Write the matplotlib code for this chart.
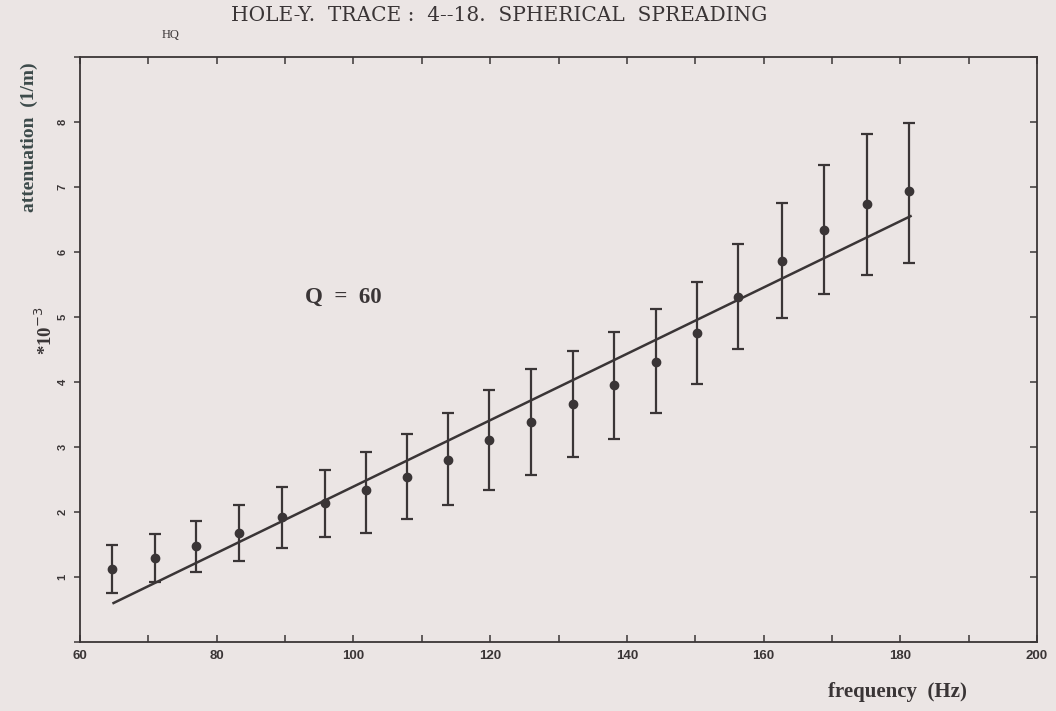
import matplotlib
matplotlib.use("Agg")
import matplotlib.pyplot as plt
from matplotlib.ticker import MultipleLocator

# data (attenuation in units of 1e-3 1/m)
freq = [64.7, 70.9, 76.9, 83.2, 89.6, 95.8, 101.8, 107.8, 113.8, 119.9,
        126.0, 132.1, 138.1, 144.3, 150.2, 156.3, 162.7, 168.9, 175.2, 181.3]
atten = [1.12, 1.29, 1.47, 1.68, 1.93, 2.14, 2.34, 2.54, 2.80, 3.11,
         3.39, 3.66, 3.95, 4.31, 4.76, 5.31, 5.86, 6.34, 6.73, 6.93]
err_low = [0.36, 0.36, 0.40, 0.43, 0.49, 0.52, 0.67, 0.64, 0.70, 0.77,
           0.82, 0.82, 0.82, 0.78, 0.79, 0.81, 0.88, 0.99, 1.09, 1.10]
err_high = [0.38, 0.37, 0.39, 0.42, 0.46, 0.51, 0.58, 0.66, 0.72, 0.76,
            0.81, 0.82, 0.82, 0.81, 0.78, 0.81, 0.90, 1.00, 1.08, 1.06]
fit_freq = [64.9, 181.5]
fit_atten = [0.60, 6.55]

x_ticks = [60, 80, 100, 120, 140, 160, 180, 200]
y_ticks = [1, 2, 3, 4, 5, 6, 7, 8]

bg = "#ebe5e4"
ink = "#3a3536"

fig = plt.figure(figsize=(10.56, 7.11), dpi=100, facecolor=bg)
ax = fig.add_axes([0.0758, 0.097, 0.9062, 0.823], facecolor=bg)

ax.errorbar(freq, atten, yerr=[err_low, err_high], fmt="o", color=ink,
            ecolor=ink, elinewidth=1.6, capsize=4, capthick=1.6,
            markersize=6, zorder=3)
ax.plot(fit_freq, fit_atten, color=ink, linewidth=1.8, zorder=2)

ax.set_xlim(60, 200)
ax.set_ylim(0, 9)
ax.set_xticks(x_ticks)
ax.xaxis.set_minor_locator(MultipleLocator(10))
ax.set_yticks(y_ticks)
ax.yaxis.set_minor_locator(MultipleLocator(1))

for s in ax.spines.values():
    s.set_color(ink)
    s.set_linewidth(1.3)

ax.tick_params(axis="x", which="both", direction="in", top=True,
               bottom=True, colors=ink, length=5, width=1.1,
               labelsize=9.5, pad=6)
ax.tick_params(axis="y", which="both", direction="out", left=True,
               right=False, colors=ink, length=4, width=1.1,
               labelsize=8, pad=5)
for lab in ax.get_xticklabels():
    lab.set_fontweight("bold")
    lab.set_family("Liberation Sans")
for lab in ax.get_yticklabels():
    lab.set_fontweight("bold")
    lab.set_family("Liberation Sans")
    lab.set_rotation(90)
    lab.set_va("center")

# right-side inward ticks
axr = ax.twinx()
axr.set_ylim(0, 9)
axr.set_yticks(range(0, 10))
axr.tick_params(axis="y", direction="in", length=5, width=1.1,
                colors=ink, labelright=False)
for s in axr.spines.values():
    s.set_visible(False)

serif = "Liberation Serif"
fig.text(0.473, 0.978, "HOLE-Y.  TRACE :  4--18.  SPHERICAL  SPREADING",
         ha="center", va="center", fontsize=14.5, family="DejaVu Serif",
         color=ink)
fig.text(0.162, 0.951, "HQ", ha="center", va="center", fontsize=9,
         family=serif, color=ink)
fig.text(0.028, 0.807, "attenuation  (1/m)", rotation=90, ha="center",
         va="center", fontsize=14, fontweight="bold", family=serif,
         color="#3c4a4a")
fig.text(0.043, 0.535, r"*10$^{-3}$", rotation=90, ha="center",
         va="center", fontsize=13.5, fontweight="bold", family=serif,
         color=ink)
fig.text(0.85, 0.027, "frequency  (Hz)", ha="center", va="center",
         fontsize=15, fontweight="bold", family=serif, color=ink)
ax.text(98.5, 5.3, "Q  =  60", ha="center", va="center", fontsize=16.5,
        fontweight="bold", family=serif, color=ink)

fig.savefig("out.png", dpi=100, facecolor=bg)
